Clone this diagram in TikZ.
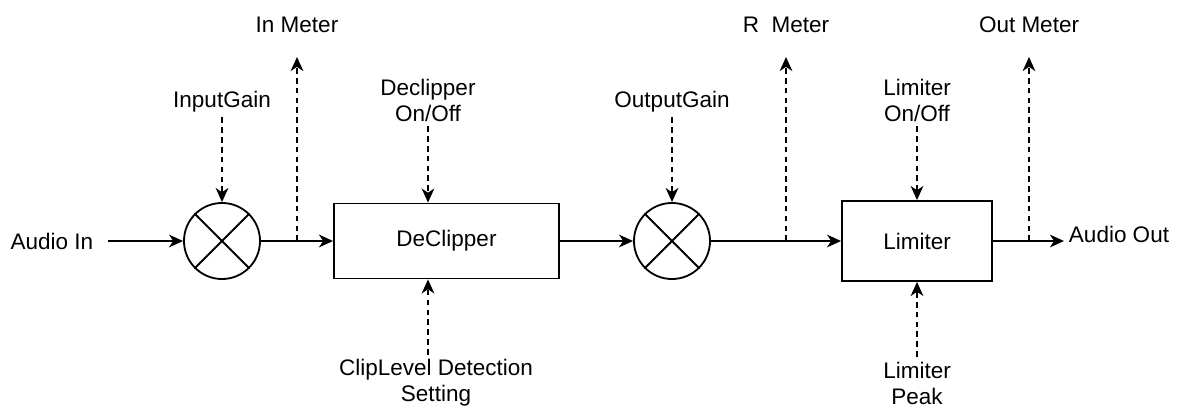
\documentclass[tikz,border=0pt]{standalone}
\usepackage{fontspec}
\setmainfont{Liberation Sans}
\usetikzlibrary{arrows.meta}

\tikzset{
  lbl/.style={font=\fontsize{16}{18.5}\selectfont, align=center},
  block/.style={lbl, draw, line width=1.3pt, inner sep=0},
  mixer/.style={draw, circle, line width=1.3pt, minimum size=1.9cm, inner sep=0},
  sig arrow/.style={-{Stealth[length=10pt,width=9pt,inset=3pt]}, line width=1.3pt},
  ctl arrow/.style={sig arrow, dash pattern=on 4pt off 3pt},
}

\begin{document}
\begin{tikzpicture}[x=0.025cm, y=-0.025cm]
    \useasboundingbox (0,0) rectangle (1182,408);

    % --- input gain stage ---
    \node[lbl] (ain) at (52,241) {Audio In};
    \node[mixer] (g1) at (222,241) {};
    \draw[line width=1.3pt] (g1.45) -- (g1.225) (g1.135) -- (g1.315);
    \node[lbl] (igain) at (222,102) {InputGain};

    % --- declipper ---
    \node[block, minimum width=5.625cm, minimum height=1.875cm] (dc) at (446.5,241) {DeClipper};
    \node[lbl] (dcon) at (428,100) {Declipper\\On/Off};
    \node[lbl] (clip) at (436,383) {ClipLevel Detection\\Setting};

    % --- output gain stage ---
    \node[mixer] (g2) at (672,241) {};
    \draw[line width=1.3pt] (g2.45) -- (g2.225) (g2.135) -- (g2.315);
    \node[lbl] (ogain) at (672,102) {OutputGain};

    % --- limiter ---
    \node[block, minimum width=3.75cm, minimum height=2cm] (lim) at (917,241) {Limiter};
    \node[lbl] (limon) at (917,100) {Limiter\\On/Off};
    \node[lbl] (limpk) at (917,383) {Limiter\\Peak};
    \node[lbl, anchor=west] (aout) at (1064,234) {Audio Out};

    % meter taps on the signal path
    \node[lbl] (inm) at (297,25) {In Meter};
    \node[lbl] (rm) at (786,25) {R~~Meter};
    \node[lbl] (outm) at (1029,25) {Out Meter};
    \coordinate (tap1) at (297,241);  \coordinate (tip1) at (297,57);
    \coordinate (tap2) at (786,241);  \coordinate (tip2) at (786,57);
    \coordinate (tap3) at (1029,241); \coordinate (tip3) at (1029,57);

    % signal path
    \draw[sig arrow, shorten <=7pt] (ain) -- (g1);
    \draw[sig arrow] (g1) -- (dc);
    \draw[sig arrow] (dc) -- (g2);
    \draw[sig arrow] (g2) -- (lim);
    \draw[sig arrow] (lim) -- (lim -| aout.west);

    % controls and meters
    \draw[ctl arrow] (igain) -- (g1);
    \draw[ctl arrow] (dcon.south) -- (dcon.south |- dc.north);
    \draw[ctl arrow] (clip.north -| dcon.south) -- (dc.south -| dcon.south);
    \draw[ctl arrow] (ogain) -- (g2);
    \draw[ctl arrow] (limon) -- (lim);
    \draw[ctl arrow] (limpk) -- (lim);
    \foreach \m in {1,2,3}
      \draw[ctl arrow] (tap\m) -- (tip\m);
\end{tikzpicture}
\end{document}
